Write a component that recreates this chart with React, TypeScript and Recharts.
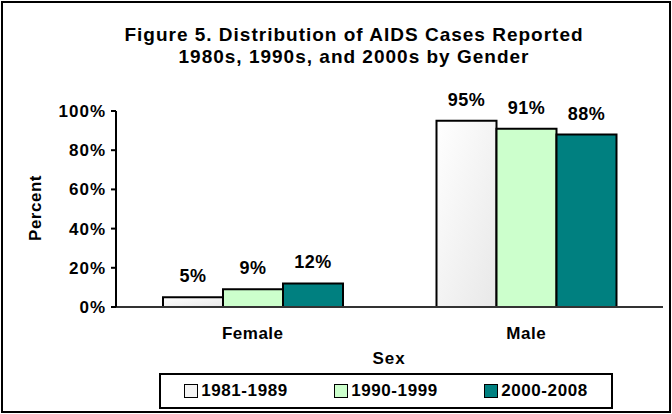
import React from 'react';
import { BarChart, Bar, XAxis, YAxis, LabelList } from 'recharts';

const categories = ['Female', 'Male'];
const period1 = [5, 95]; // 1981-1989
const period2 = [9, 91]; // 1990-1999
const period3 = [12, 88]; // 2000-2008
const seriesNames = ['1981-1989', '1990-1999', '2000-2008'];
const yTicks = [0, 20, 40, 60, 80, 100];

const seriesKeys = ['p1', 'p2', 'p3'];
const seriesFills = ['url(#whiteBar)', '#CCFFCC', '#008080'];
const legendSwatch = ['#f4f4f4', '#CCFFCC', '#008080'];

const data = categories.map((sex, i) => ({
  sex,
  p1: period1[i],
  p2: period2[i],
  p3: period3[i],
}));

const font = '"Liberation Sans", Arial, sans-serif';

export default function App() {
  return (
    <div
      style={{
        position: 'fixed',
        left: 0,
        top: 0,
        width: 672,
        height: 414,
        background: '#fff',
        fontFamily: font,
        color: '#000',
      }}
    >
      {/* outer frame */}
      <div
        style={{
          position: 'absolute',
          left: 1,
          top: 1,
          width: 670,
          height: 412,
          border: '2px solid #000',
          boxSizing: 'border-box',
        }}
      />

      <div
        style={{
          position: 'absolute',
          left: 54,
          top: 24,
          width: 600,
          textAlign: 'center',
          fontSize: 19,
          lineHeight: '22px',
          fontWeight: 'bold',
          letterSpacing: 1,
        }}
      >
        Figure 5. Distribution of AIDS Cases Reported
        <br />
        1980s, 1990s, and 2000s by Gender
      </div>

      <BarChart
        width={672}
        height={414}
        data={data}
        margin={{ top: 111, right: 9, bottom: 67, left: 0 }}
        barGap={0}
        style={{ position: 'absolute', left: 0, top: 0, fontFamily: font }}
      >
        <defs>
          <linearGradient id="whiteBar" x1="0" y1="0" x2="1" y2="1">
            <stop offset="0%" stopColor="#ffffff" />
            <stop offset="100%" stopColor="#e8e8e8" />
          </linearGradient>
        </defs>
        <XAxis
          dataKey="sex"
          height={40}
          tickLine={false}
          tickSize={0}
          tickMargin={20}
          axisLine={{ stroke: '#333', strokeWidth: 2 }}
          tick={{ fontSize: 17, fontWeight: 'bold', fill: '#000', letterSpacing: 0.5 }}
        />
        <YAxis
          width={116}
          domain={[0, 100]}
          ticks={yTicks}
          tickFormatter={(v) => `${v}%`}
          tickSize={5}
          tickMargin={5}
          axisLine={{ stroke: '#000', strokeWidth: 2 }}
          tickLine={{ stroke: '#000', strokeWidth: 2 }}
          tick={{ fontSize: 17, fontWeight: 'bold', fill: '#000', letterSpacing: 1 }}
        />
        {seriesKeys.map((k, i) => (
          <Bar
            key={k}
            dataKey={k}
            name={seriesNames[i]}
            barSize={60}
            fill={seriesFills[i]}
            stroke="#000"
            strokeWidth={2}
            isAnimationActive={false}
          >
            <LabelList
              dataKey={k}
              position="top"
              offset={15}
              formatter={(v: any) => `${v}%`}
              fill="#000"
              fontSize={18}
              fontWeight="bold"
              letterSpacing={0.5}
            />
          </Bar>
        ))}
      </BarChart>

      <div
        style={{
          position: 'absolute',
          left: 18,
          top: 208,
          transform: 'translate(0, 0)',
        }}
      >
        <div
          style={{
            position: 'absolute',
            left: -40,
            top: -10,
            width: 80,
            textAlign: 'center',
            fontSize: 17,
            lineHeight: '20px',
            fontWeight: 'bold',
            letterSpacing: 0.5,
            transform: 'translate(18px, 0) rotate(-90deg)',
          }}
        >
          Percent
        </div>
      </div>

      <div
        style={{
          position: 'absolute',
          left: 339,
          top: 350,
          width: 100,
          textAlign: 'center',
          fontSize: 17,
          lineHeight: '18px',
          fontWeight: 'bold',
          letterSpacing: 1,
        }}
      >
        Sex
      </div>

      <div
        style={{
          position: 'absolute',
          left: 159,
          top: 373,
          width: 454,
          height: 36,
          border: '2px solid #000',
          boxSizing: 'border-box',
          display: 'flex',
          alignItems: 'center',
          justifyContent: 'space-around',
        }}
      >
        {seriesNames.map((name, i) => (
          <div key={name} style={{ display: 'flex', alignItems: 'center' }}>
            <span
              style={{
                display: 'inline-block',
                width: 12,
                height: 12,
                border: '1px solid #000',
                background: legendSwatch[i],
                marginRight: 3,
              }}
            />
            <span style={{ fontSize: 17, fontWeight: 'bold', letterSpacing: 0.6, lineHeight: '18px' }}>
              {name}
            </span>
          </div>
        ))}
      </div>
    </div>
  );
}
